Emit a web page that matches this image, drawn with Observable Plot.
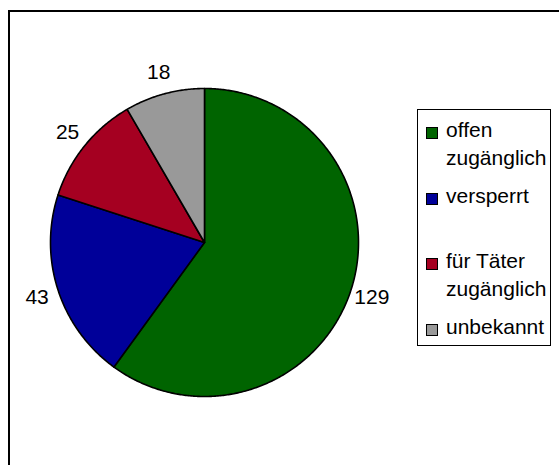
<!DOCTYPE html>
<html>
<head>
<meta charset="utf-8">
<script src="https://cdn.jsdelivr.net/npm/d3@7"></script>
<script src="https://cdn.jsdelivr.net/npm/@observablehq/plot@0.6"></script>
<style>
  html, body { margin: 0; padding: 0; background: #fff; overflow: hidden; }
  body { width: 559px; height: 465px; position: relative; font-family: "Liberation Sans", Arial, sans-serif; }
  #frame { position: absolute; left: 8px; top: 10px; width: 600px; height: 520px; border: 2px solid #000; box-sizing: border-box; }
  #chart { position: absolute; left: 0; top: 0; }
  #legend { position: absolute; left: 417px; top: 109px; width: 134px; height: 237px; border: 1px solid #000; box-sizing: border-box; background: #fff; }
  .item { position: absolute; left: 0; font-size: 21px; line-height: 28px; color: #000; }
  .sw { position: absolute; width: 10px; height: 10px; border: 1px solid #000; }
  .lbl { position: absolute; left: 28px; white-space: nowrap; }
</style>
</head>
<body>
<div id="frame"></div>
<div id="chart"></div>
<div id="legend"></div>
<script>
// Data
const categories = ["offen zugänglich", "versperrt", "für Täter zugänglich", "unbekannt"];
const legendLines = [["offen", "zugänglich"], ["versperrt"], ["für Täter", "zugänglich"], ["unbekannt"]];
const values = [129, 43, 25, 18];
const colors = ["#006400", "#000099", "#a50021", "#999999"];

// Geometry in unit space (angle 0 at top, clockwise)
const total = d3.sum(values);
let acc = 0;
const slices = values.map((v, i) => {
  const a0 = acc / total * 2 * Math.PI;
  acc += v;
  const a1 = acc / total * 2 * Math.PI;
  return {cat: categories[i], value: v, a0, a1};
});
const poly = [];
for (const s of slices) {
  poly.push({cat: s.cat, x: 0, y: 0});
  const n = Math.max(2, Math.ceil((s.a1 - s.a0) / (Math.PI / 360)));
  for (let k = 0; k <= n; k++) {
    const a = s.a0 + (s.a1 - s.a0) * k / n;
    poly.push({cat: s.cat, x: Math.sin(a), y: Math.cos(a)});
  }
  poly.push({cat: s.cat, x: 0, y: 0});
}
const labelR = 176 / 154;
const labels = slices.map(s => {
  const m = (s.a0 + s.a1) / 2;
  return {text: String(s.value), x: Math.sin(m) * labelR, y: Math.cos(m) * labelR};
});

const cx = 204, cy = 242, r = 154;
const chart = Plot.plot({
  width: 559,
  height: 465,
  margin: 0,
  style: {background: "transparent", fontFamily: "Liberation Sans, Arial, sans-serif"},
  x: {domain: [-1, 1], range: [cx - r, cx + r], axis: null},
  y: {domain: [-1, 1], range: [cy + r, cy - r], axis: null},
  color: {domain: categories, range: colors},
  marks: [
    Plot.line(poly, {x: "x", y: "y", z: "cat", fill: "cat", stroke: "#000", strokeWidth: 1.6, strokeLinejoin: "round"}),
    Plot.text(labels, {x: "x", y: "y", text: "text", fontSize: 21, fill: "#000", textAnchor: "middle"})
  ]
});
document.getElementById("chart").appendChild(chart);

// Legend
const legend = document.getElementById("legend");
const slot = 65.5;
categories.forEach((c, i) => {
  const item = document.createElement("div");
  item.className = "item";
  item.style.top = (6 + i * slot) + "px";
  item.style.width = "132px";
  const sw = document.createElement("div");
  sw.className = "sw";
  sw.style.left = "8px";
  sw.style.top = "11px";
  sw.style.background = colors[i];
  item.appendChild(sw);
  const lbl = document.createElement("div");
  lbl.className = "lbl";
  lbl.innerHTML = legendLines[i].join("<br>");
  item.appendChild(lbl);
  legend.appendChild(item);
});
</script>
</body>
</html>
